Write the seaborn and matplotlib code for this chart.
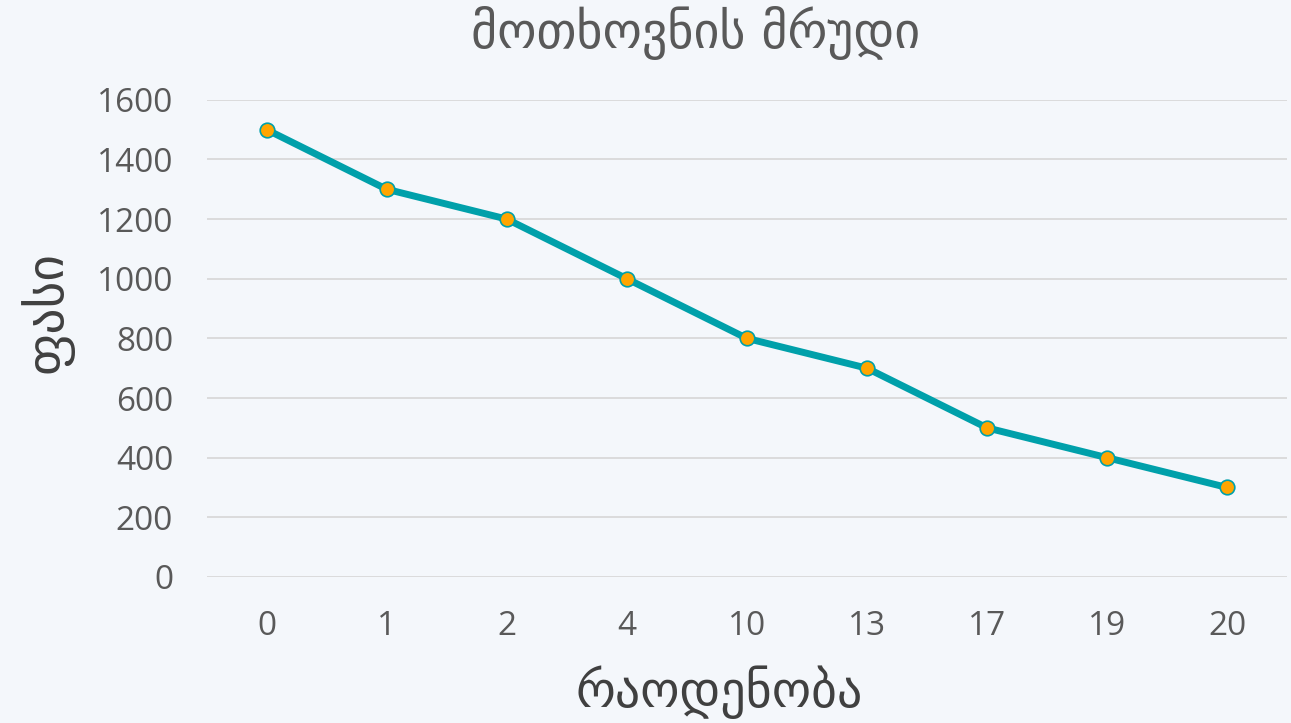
import pandas as pd
import matplotlib.pyplot as plt
import seaborn as sns

# data
quantity = ["0", "1", "2", "4", "10", "13", "17", "19", "20"]
price = [1500, 1300, 1200, 1000, 800, 700, 500, 400, 300]

title = "მოთხოვნის მრუდი"
x_label = "რაოდენობა"
y_label = "ფასი"

BG = "#F4F7FB"
LINE = "#00A0AA"
MARKER = "#FFA500"
TEXT = "#595959"

sns.set_theme(style="whitegrid")
plt.rcParams["font.family"] = ["Open Sans", "DejaVu Sans"]

df = pd.DataFrame({"quantity": quantity, "price": price})

fig = plt.figure(figsize=(12.91, 7.23), dpi=100, facecolor=BG)
ax = fig.add_axes([0.160, 0.202, 0.837, 0.660], facecolor=BG)

sns.lineplot(
    data=df,
    x="quantity",
    y="price",
    sort=False,
    color=LINE,
    linewidth=5,
    marker="o",
    markersize=10.5,
    markerfacecolor=MARKER,
    markeredgecolor=LINE,
    markeredgewidth=1.2,
    ax=ax,
)

ax.set_xlim(-0.5, len(quantity) - 0.5)
ax.set_ylim(0, 1600)
ax.set_yticks(range(0, 1601, 200))

ax.grid(axis="y", color="#D9D9D9", linewidth=1.3)
ax.grid(axis="x", visible=False)
for side in ["left", "right", "top", "bottom"]:
    ax.spines[side].set_visible(False)

ax.tick_params(axis="both", colors=TEXT, labelsize=24, length=0)
ax.tick_params(axis="x", pad=24)
ax.tick_params(axis="y", pad=24)

ax.set_xlabel(x_label, fontsize=36, color="#404040", family="DejaVu Sans")
ax.set_ylabel(y_label, fontsize=37, color="#404040", family="DejaVu Sans")
ax.xaxis.set_label_coords(0.474, -0.241)
ax.xaxis.label.set_va("center")
ax.yaxis.set_label_coords(-0.148, 0.555)
ax.yaxis.label.set_va("center")

fig.text(0.539, 0.954, title, fontsize=36, color=TEXT, family="DejaVu Sans",
         ha="center", va="center")

fig.savefig("out.png", dpi=100, facecolor=BG)
